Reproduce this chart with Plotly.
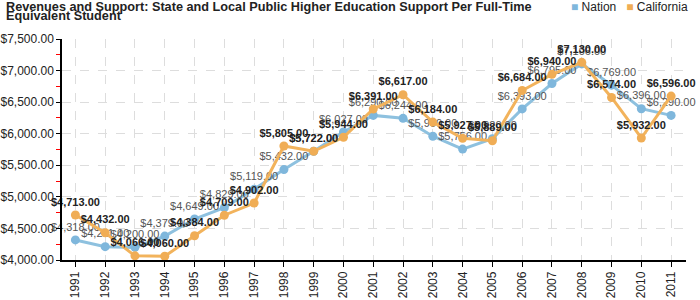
import plotly.graph_objects as go

years = [str(y) for y in range(1991, 2012)]
nation = [4318, 4211, 4200, 4379, 4649, 4829, 5119, 5432, 5722, 6027, 6290,
          6244, 5960, 5756, 5920, 6393, 6795, 7106, 6769, 6396, 6290]
california = [4713, 4432, 4066, 4060, 4384, 4709, 4902, 5805, 5722, 5944, 6391,
              6617, 6184, 5927, 5889, 6684, 6940, 7130, 6574, 5932, 6596]
series_names = ["Nation", "California"]

def fmt(v):
    return "${:,.2f}".format(v)

FONT = "Liberation Sans, Arial, sans-serif"
BLUE = "#8ec1df"
ORANGE = "#f2b35c"
BLUE_M = "#7fb7dc"
ORANGE_M = "#f0ad55"

fig = go.Figure()
fig.add_trace(go.Scatter(
    x=years, y=nation, mode="lines+markers+text", name=series_names[0],
    line=dict(color=BLUE, width=3), marker=dict(color=BLUE_M, size=9),
    text=[fmt(v) for v in nation], textposition="top center",
    textfont=dict(family=FONT, size=11, color="#555555"),
    showlegend=False, cliponaxis=False))
fig.add_trace(go.Scatter(
    x=years, y=california, mode="lines+markers+text", name=series_names[1],
    line=dict(color=ORANGE, width=3), marker=dict(color=ORANGE_M, size=9),
    text=[fmt(v) for v in california], textposition="top center",
    textfont=dict(family=FONT, size=11, color="#222222", weight="bold"),
    showlegend=False, cliponaxis=False))

PW = 624
PH = 221
def px_x(p):
    return (p - 62) / PW
def px_y(p):
    return (260 - p) / PH

legend_text = ("<span style='color:%s'>■</span> %s   <span style='color:%s'>■</span> %s"
               % (BLUE_M, series_names[0], ORANGE_M, series_names[1]))

fig.update_layout(
    width=700, height=300,
    margin=dict(l=62, r=14, t=39, b=40, autoexpand=False),
    paper_bgcolor="white", plot_bgcolor="white",
    font=dict(family=FONT, color="#222222"),
    showlegend=False,
    annotations=[
        dict(text="<b>Revenues and Support: State and Local Public Higher Education Support Per Full-Time</b>",
             xref="paper", yref="paper", x=px_x(4), y=px_y(7), xanchor="left", yanchor="middle",
             showarrow=False, font=dict(size=12.7, family=FONT, color="#222222")),
        dict(text="<b>Equivalent Student</b>",
             xref="paper", yref="paper", x=px_x(4), y=px_y(16), xanchor="left", yanchor="middle",
             showarrow=False, font=dict(size=12.7, family=FONT, color="#222222")),
        dict(text=legend_text,
             xref="paper", yref="paper", x=px_x(690), y=px_y(7), xanchor="right", yanchor="middle",
             showarrow=False, font=dict(size=12, family=FONT, color="#222222")),
    ],
)
fig.update_xaxes(
    type="category", range=[-0.45, 20.5], automargin=False,
    showline=True, linecolor="black", linewidth=1.5,
    ticks="outside", tickcolor="black", ticklen=5,
    tickangle=-90, tickfont=dict(size=12, color="#222222"),
    showgrid=True, gridcolor="#dddddd", griddash="dash", gridwidth=1,
)
fig.update_yaxes(
    range=[4000, 7500], dtick=500, tick0=4000, automargin=False,
    showline=True, linecolor="black", linewidth=1.5,
    ticks="outside", tickcolor="black", ticklen=4,
    tickformat="$,.2f", tickfont=dict(size=12, color="#222222"),
    showgrid=True, gridcolor="#dddddd", griddash="dash", gridwidth=1,
    zeroline=False,
    minor=dict(dtick=250, tick0=4000, ticks="outside", ticklen=4, tickcolor="red", showgrid=False),
)

fig.write_html("out.html")
